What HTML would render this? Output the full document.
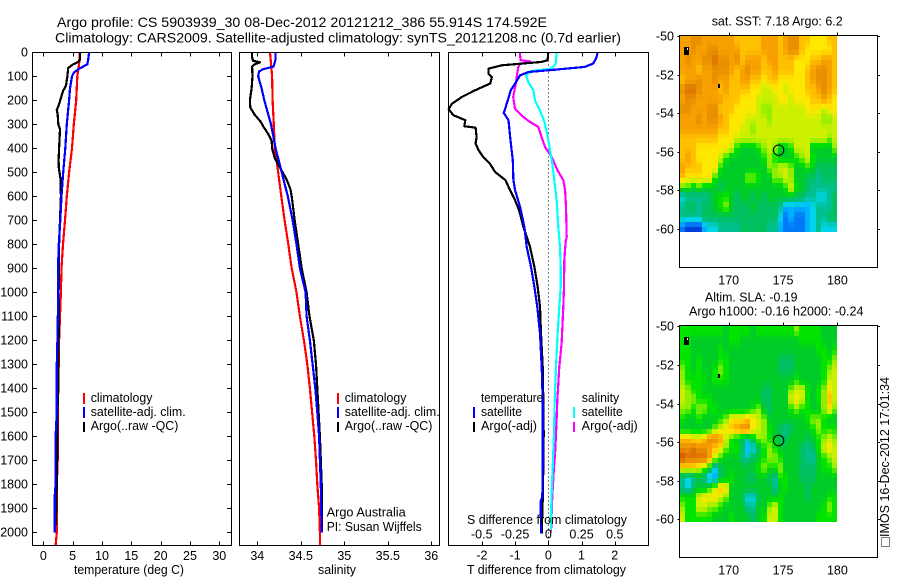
<!DOCTYPE html>
<html lang="en">
<head>
<meta charset="utf-8">
<title>Argo profile</title>
<style>
html,body{margin:0;padding:0;background:#fff;}
svg{display:block;}
text{font-family:"Liberation Sans",sans-serif;font-size:12.5px;fill:#000;}
.t{font-size:14px;}
</style>
</head>
<body>
<svg id="fig" xmlns="http://www.w3.org/2000/svg" width="900" height="580" viewBox="0 0 900 580">
<rect x="0" y="0" width="900" height="580" fill="#fff"/>
<text class="t" x="57" y="27" textLength="490" lengthAdjust="spacingAndGlyphs">Argo profile: CS 5903939_30 08-Dec-2012 20121212_386 55.914S 174.592E</text>
<text class="t" x="55" y="42.5" textLength="566" lengthAdjust="spacingAndGlyphs">Climatology: CARS2009. Satellite-adjusted climatology: synTS_20121208.nc (0.7d earlier)</text>

<g id="p1"></g>
<g id="p2"></g>
<g id="p3"></g>
<g id="m1"></g>
<g id="m2"></g>

<text x="74" y="574" textLength="110" lengthAdjust="spacingAndGlyphs">temperature (deg C)</text>
<text x="318" y="574" textLength="38" lengthAdjust="spacingAndGlyphs">salinity</text>
<text x="467" y="574" textLength="159" lengthAdjust="spacingAndGlyphs">T difference from climatology</text>
<text x="467" y="524" textLength="160" lengthAdjust="spacingAndGlyphs">S difference from climatology</text>

<g shape-rendering="crispEdges">
<rect x="83" y="393" width="2" height="11" fill="#f00"/>
<rect x="83" y="407" width="2" height="11" fill="#00f"/>
<rect x="83" y="422" width="2" height="10" fill="#000"/>
</g>
<text x="90.7" y="402" textLength="61.7" lengthAdjust="spacingAndGlyphs">climatology</text>
<text x="90.7" y="416" textLength="95" lengthAdjust="spacingAndGlyphs">satellite-adj. clim.</text>
<text x="90.7" y="430" textLength="87.7" lengthAdjust="spacingAndGlyphs">Argo(..raw -QC)</text>

<g shape-rendering="crispEdges">
<rect x="337" y="393" width="2" height="11" fill="#f00"/>
<rect x="337" y="407" width="2" height="11" fill="#00f"/>
<rect x="337" y="422" width="2" height="10" fill="#000"/>
</g>
<text x="344.7" y="402" textLength="61.7" lengthAdjust="spacingAndGlyphs">climatology</text>
<text x="344.7" y="416" textLength="95" lengthAdjust="spacingAndGlyphs">satellite-adj. clim.</text>
<text x="344.7" y="430" textLength="87.7" lengthAdjust="spacingAndGlyphs">Argo(..raw -QC)</text>
<text x="326.7" y="516.5" textLength="79" lengthAdjust="spacingAndGlyphs">Argo Australia</text>
<text x="326.7" y="531" textLength="95" lengthAdjust="spacingAndGlyphs">PI: Susan Wijffels</text>

<g shape-rendering="crispEdges">
<rect x="473" y="407" width="2" height="11" fill="#00f"/>
<rect x="473" y="422" width="2" height="10" fill="#000"/>
<rect x="573" y="407" width="2" height="11" fill="#0ff"/>
<rect x="573" y="422" width="2" height="10" fill="#f0f"/>
</g>
<text x="481" y="402" textLength="62" lengthAdjust="spacingAndGlyphs">temperature</text>
<text x="481" y="416" textLength="41" lengthAdjust="spacingAndGlyphs">satellite</text>
<text x="481" y="430" textLength="56" lengthAdjust="spacingAndGlyphs">Argo(-adj)</text>
<text x="581.7" y="402" textLength="37.5" lengthAdjust="spacingAndGlyphs">salinity</text>
<text x="581.7" y="416" textLength="41" lengthAdjust="spacingAndGlyphs">satellite</text>
<text x="581.7" y="430" textLength="56" lengthAdjust="spacingAndGlyphs">Argo(-adj)</text>

<text x="711.7" y="25.5" textLength="131" lengthAdjust="spacingAndGlyphs">sat. SST: 7.18 Argo: 6.2</text>
<text x="705" y="301.5" textLength="92.5" lengthAdjust="spacingAndGlyphs">Altim. SLA: -0.19</text>
<text x="689" y="315.5" textLength="174.5" lengthAdjust="spacingAndGlyphs">Argo h1000: -0.16 h2000: -0.24</text>

<g shape-rendering="crispEdges">
<rect x="881.5" y="537.5" width="8" height="9" fill="none" stroke="#000" stroke-dasharray="1 1"/>
</g>
<text x="0" y="0" transform="translate(889 537) rotate(-90)" textLength="160" lengthAdjust="spacingAndGlyphs">IMOS 16-Dec-2012 17:01:34</text>
</svg>

<script>
// ---------- temperature profiles ----------
const tempClimDepth = [0,50,100,200,300,400,500,600,700,800,900,1000,1100,1200,1400,1500,1700,1800,2000,2055];
const tempClimValue = [6.2,6.1,5.8,5.6,5.2,4.9,4.4,4.0,3.7,3.35,3.1,3.0,2.85,2.7,2.55,2.45,2.45,2.3,2.3,2.1];
const tempSatDepth = [0,30,50,70,85,100,150,200,300,400,500,600,700,800,900,1000,1200,1300,1500,1600,1800,1850,2000];
const tempSatValue = [7.8,7.65,7.5,6.0,5.2,4.9,4.55,4.4,4.0,3.75,3.4,3.1,2.9,2.65,2.5,2.55,2.4,2.3,2.3,2.1,2.1,1.95,1.95];
const tempArgoDepth = [0,30,40,50,65,100,140,160,190,220,240,260,300,320,400,450,480,530,600,700,800,900,1000,1100,1400,1500,1750,1800,1970];
const tempArgoValue = [6.25,6.25,6,5.1,4.25,4.1,3.85,3.4,3,2.65,2.3,2.45,2.55,2.85,2.7,2.6,2.65,2.95,3,2.85,2.7,2.7,2.6,2.65,2.55,2.4,2.35,2.3,2.15];

// ---------- salinity profiles ----------
const salClimDepth = [0,100,200,300,400,500,600,700,800,900,1000,1100,1200,1300,1400,1500,1600,1700,1800,1900,2000,2055];
const salClimValue = [34.146,34.17,34.176,34.19,34.2,34.24,34.276,34.314,34.356,34.395,34.45,34.49,34.536,34.575,34.605,34.63,34.655,34.675,34.69,34.71,34.72,34.72];
const salSatDepth = [0,30,60,70,80,100,150,200,300,400,500,600,700,800,900,1000,1100,1200,1300,1400,1500,1600,1700,1800,1900,2000];
const salSatValue = [34.21,34.21,34.185,34.07,34.02,34.01,34.05,34.08,34.157,34.21,34.28,34.35,34.406,34.45,34.49,34.555,34.567,34.605,34.636,34.667,34.69,34.71,34.72,34.73,34.735,34.74];
const salArgoDepth = [0,20,35,42,50,60,100,150,200,230,260,290,310,340,370,400,440,480,530,570,600,700,800,900,1000,1100,1200,1300,1400,1500,1600,1800,2000];
const salArgoValue = [33.94,33.94,33.95,34.03,33.97,33.94,33.945,33.935,33.915,33.92,33.97,34.04,34.07,34.125,34.165,34.17,34.2,34.26,34.337,34.38,34.395,34.43,34.47,34.51,34.567,34.6,34.65,34.675,34.69,34.705,34.72,34.74,34.74];

// ---------- difference profiles ----------
const sDiffArgoDepth = [0,33,38,50,60,89,130,186,235,269,290,311,353,394,436,492,533,575,644,769,790,867,978,1061,1116,1214,1311,1380,1450,1519,1589,1658,1728,1850,2000];
const sDiffArgoValue = [-0.214,-0.208,-0.138,-0.214,-0.225,-0.234,-0.244,-0.264,-0.25,-0.188,-0.138,-0.075,-0.05,-0.025,0.025,0.07,0.113,0.126,0.133,0.138,0.13,0.12,0.118,0.113,0.108,0.1,0.083,0.075,0.068,0.063,0.058,0.053,0.043,0.03,0.02];
const sDiffSatDepth = [0,47,68,78,96,124,158,200,242,283,339,408,464,533,617,728,811,894,978,1061,1172,1311,1450,1589,1728,1867,1990];
const sDiffSatValue = [0.063,0.055,0.025,-0.126,-0.168,-0.15,-0.113,-0.1,-0.063,-0.033,-0.008,0.013,0.03,0.045,0.063,0.075,0.088,0.093,0.093,0.083,0.07,0.058,0.048,0.043,0.033,0.023,0.02];
const tDiffArgoDepth = [0,33,40,54,68,89,103,130,158,186,214,237,262,283,308,314,353,380,408,436,464,499,533,575,617,658,728,811,894,978,1061,1172,1311,1450,1589,1728,1867,2006];
const tDiffArgoValue = [0,-0.02,-0.2,-1.4,-1.8,-1.8,-1.7,-1.75,-2.2,-2.6,-2.9,-3,-2.86,-2.5,-2.53,-2.19,-2.16,-2.19,-2.1,-1.96,-1.76,-1.6,-1.29,-1.15,-1,-0.88,-0.75,-0.55,-0.42,-0.32,-0.25,-0.22,-0.17,-0.15,-0.14,-0.15,-0.17,-0.2];
const tDiffSatDepth = [0,28,47,61,75,82,96,130,158,200,253,283,367,450,533,575,644,728,811,894,978,1061,1172,1311,1450,1589,1728,1853,1870,2006];
const tDiffSatValue = [1.49,1.43,1.35,1.1,0,-0.6,-0.85,-1,-1.13,-1.22,-1.34,-1.2,-1.14,-1.07,-1.05,-1,-0.85,-0.72,-0.65,-0.52,-0.42,-0.33,-0.25,-0.2,-0.17,-0.17,-0.17,-0.18,-0.23,-0.22];

// ---------- tick labels ----------
const depthTicks = [0,100,200,300,400,500,600,700,800,900,1000,1100,1200,1300,1400,1500,1600,1700,1800,1900,2000];
const tempTicks = [0,5,10,15,20,25,30];
const salTicks = [34,34.5,35,35.5,36];
const tDiffTicks = [-2,-1,0,1,2];
const sDiffTicks = [-0.5,-0.25,0,0.25,0.5];
const latTicks = [-50,-52,-54,-56,-58,-60];
const lonTicks = [170,175,180];

// ---------- profile position and islands ----------
const floatLon = [174.592];
const floatLat = [-55.914];
const islandLon = [166.1,169.15];
const islandLat = [-50.78,-52.58];

// ---------- map grids (colour-level values, rows north to south, columns west to east) ----------
const sstGrid = [
[12,12,13,13,12, 12,12,12,12,12, 11,11,11,11,11, 12,12,12,11,12, 13,13,11,11,10, 10,10,11,11],
[12,12,13,12,12, 13,13,12,12,12, 12,11,11,11,11, 12,12,12,11,12, 13,13,11,10,10, 10,10,10,11],
[12,13,12,12,13, 13,14,13,13,12, 13,11,12,12,12, 11,12,12,11,11, 11,10,10,10,11, 11,12,12,11],
[12,12,12,11,12, 12,13,13,13,12, 11,12,13,12,12, 11,11,12,11,11, 11,10,10,11,12, 13,13,12,11],
[11,12,12,13,12, 12,13,12,12,11, 11,12,12,11,11, 10,11,11,10,10, 10,10,10,11,12, 13,13,12,11],
[13,14,14,13,12, 12,12,11,12,11, 11,11,11,10,10, 9,9,10,10,9, 10,10,10,11,11, 12,13,12,11],
[12,13,13,12,12, 12,12,12,11,11, 11,10,10,10,9, 9,9,9,10,10, 9,10,10,10,11, 11,12,11,10],
[13,13,12,12,12, 13,13,11,11,11, 10,10,10,10,9, 8,8,9,9,9, 9,9,9,10,10, 10,9,10,10],
[12,12,12,13,12, 13,13,12,11,10, 10,10,9,9,9, 9,8,9,9,9, 9,9,9,9,9, 9,8,8,9],
[12,12,12,12,12, 12,12,11,11,10, 10,9,9,8,9, 9,9,9,9,9, 9,9,9,9,9, 9,9,9,9],
[11,11,11,11,11, 11,11,10,10,10, 9,9,9,9,9, 9,9,9,9,9, 9,9,9,9,9, 9,9,8,9],
[11,11,11,10,10, 10,10,10,10,9, 7,6,6,6,7, 8,9,8,6,6, 7,9,9,9,6, 6,6,6,8],
[11,12,11,10,10, 10,10,9,7,6, 6,6,6,6,6, 7,8,7,6,6, 6,7,8,9,7, 6,6,6,6],
[12,11,11,11,10, 10,10,7,6,6, 6,6,6,6,6, 6,8,8,9,9, 8,6,6,7,6, 5,5,5,5],
[11,10,10,10,10, 10,7,6,6,6, 6,6,8,8,7, 6,6,8,8,9, 8,6,6,5,5, 4,5,5,5],
[7,7,6,7,6, 6,6,5,6,6, 6,6,6,6,6, 6,6,6,6,7, 9,7,6,5,4, 4,4,4,4],
[3,4,4,4,4, 5,6,7,7,6, 5,6,6,5,6, 5,6,6,6,6, 6,5,5,4,4, 3,3,4,5],
[4,5,5,4,5, 5,6,7,8,6, 5,5,5,6,5, 5,5,5,4,2, 2,2,2,2,3, 4,4,4,5],
[4,4,4,4,5, 5,5,5,5,5, 5,5,5,5,5, 5,5,5,3,1, 2,1,1,2,3, 4,4,5,5],
[1,0,0,0,2, 3,3,4,4,4, 4,5,5,5,5, 5,4,4,2,1, 1,1,1,2,3, 4,3,3,3]
];
const slaGrid = [
[7,7,7,7,7, 7,7,7,6,7, 7,7,7,6,7, 7,7,7,7,7, 7,8,7,7,7, 7,6,6,6],
[7,7,6,6,6, 6,6,6,6,7, 7,6,6,6,6, 6,6,6,6,6, 6,6,7,7,7, 7,6,6,6],
[7,7,6,6,6, 6,6,7,6,6, 6,6,6,6,6, 6,6,6,6,6, 6,6,6,6,6, 7,7,6,7],
[7,7,6,7,6, 6,6,7,7,6, 6,6,6,6,6, 6,6,6,5,5, 5,6,6,6,6, 6,7,7,8],
[8,7,6,7,6, 6,7,8,7,6, 6,6,6,6,6, 6,6,6,5,5, 5,6,6,6,6, 6,7,8,9],
[8,7,7,7,7, 6,7,7,7,6, 6,6,6,6,6, 6,6,6,6,6, 6,7,6,6,6, 6,7,9,9],
[9,8,7,7,6, 6,6,6,6,6, 6,6,6,6,6, 5,5,6,6,6, 8,9,9,7,6, 7,8,10,9],
[9,8,8,7,7, 7,6,6,6,6, 6,6,6,6,6, 5,5,6,6,6, 9,10,9,7,6, 7,8,11,9],
[8,8,7,8,8, 7,7,6,6,6, 6,6,6,7,8, 6,5,6,6,6, 7,8,7,7,6, 6,8,10,8],
[7,6,6,7,6, 6,6,7,8,10, 10,10,11,10,9, 8,6,6,6,6, 6,6,6,7,8, 8,7,6,6],
[6,6,6,6,6, 6,8,9,10,11, 12,13,13,10,9, 8,7,6,5,4, 5,6,6,6,7, 8,7,7,7],
[11,11,10,10,11, 13,13,12,9,7, 6,5,4,6,8, 8,7,6,5,5, 6,6,6,5,6, 7,8,9,8],
[13,13,14,13,13, 12,11,10,8,7, 7,5,2,3,5, 7,8,7,6,6, 6,6,5,4,5, 7,9,10,9],
[15,14,14,14,14, 12,9,7,6,6, 6,4,4,5,6, 7,8,8,7,6, 6,6,5,4,4, 6,7,8,9],
[10,10,10,9,8, 6,3,5,6,6, 6,6,6,6,7, 8,7,7,8,6, 6,6,5,5,5, 6,7,7,8],
[4,3,4,5,4, 2,2,5,6,7, 6,6,5,5,6, 6,5,4,7,7, 6,6,5,5,5, 6,6,6,6],
[4,3,5,6,6, 7,9,11,10,6, 6,6,6,6,6, 6,6,4,6,7, 6,6,6,5,6, 6,6,6,6],
[7,7,7,9,10, 10,10,9,8,6, 6,5,3,3,5, 6,6,6,7,6, 6,6,6,5,6, 6,6,7,7],
[8,7,7,9,9, 8,8,7,6,6, 6,6,4,4,6, 6,8,9,7,6, 6,6,6,6,6, 6,7,8,7],
[9,7,7,7,7, 7,6,6,6,7, 6,6,6,5,6, 7,9,9,7,6, 6,6,6,6,6, 7,7,7,7]
];

// ---------- axis functions ----------
function yDepth(d){ return 52.3 + d * 0.24; }
function xTemp(t){ return 43.3 + t * 5.867; }
function xSal(s){ return 257.3 + (s - 34) * 87; }
function xTDiff(t){ return 548.3 + t * 33.2; }
function xSDiff(s){ return 548.3 + s * 133; }
function xLon(lon){ return 728.7 + (lon - 170) * 10.87; }
function yLat1(lat){ return 36 + (-50 - lat) * 19.3; }
function yLat2(lat){ return 326.3 + (-50 - lat) * 19.3; }

const levelColors = [[0,64,216],[0,120,248],[0,176,255],[0,212,232],[0,192,144],[0,192,96],[0,204,40],[0,228,0],[144,238,0],[204,240,0],[255,232,0],[255,192,0],[248,160,0],[232,144,0],[224,112,0],[208,80,0]];
function colorFor(v){
  const max = levelColors.length - 1;
  const t = Math.max(0, Math.min(max, v));
  const i = Math.min(max - 1, Math.floor(t));
  const f = t - i;
  const a = levelColors[i], b = levelColors[i + 1];
  return 'rgb(' + [0,1,2].map(function(k){ return Math.round(a[k] + (b[k] - a[k]) * f); }).join(',') + ')';
}

const NS = 'http://www.w3.org/2000/svg';
function mk(tag, parent){
  const el = document.createElementNS(NS, tag);
  parent.appendChild(el);
  return el;
}
function drawLine(parent, x1, y1, x2, y2, name){
  const el = mk('line', parent);
  
  
  el.setAttribute('x1', x1);
  el.setAttribute('y1', y1);
  el.setAttribute('x2', x2);
  el.setAttribute('y2', y2);
  el.setAttribute('stroke', '#000');
  el.setAttribute('stroke-width', '1');
  el.setAttribute('shape-rendering', 'crispEdges');
  return el;
}
function drawLabel(parent, x, y, str, anchor, name){
  const el = mk('text', parent);
  
  
  el.setAttribute('x', x);
  el.setAttribute('y', y);
  el.setAttribute('text-anchor', anchor);
  el.textContent = str;
  return el;
}
function drawFrame(parent, x, y, w, h){
  const el = mk('rect', parent);
  
  
  el.setAttribute('x', x);
  el.setAttribute('y', y);
  el.setAttribute('width', w);
  el.setAttribute('height', h);
  el.setAttribute('fill', 'none');
  el.setAttribute('stroke', '#000');
  el.setAttribute('stroke-width', '1');
  el.setAttribute('shape-rendering', 'crispEdges');
  return el;
}
function drawSeries(parent, xs, ys, xFn, color, name){
  const el = mk('polyline', parent);
  
  
  el.setAttribute('points', xs.map(function(v, i){ return xFn(v).toFixed(1) + ',' + yDepth(ys[i]).toFixed(1); }).join(' '));
  el.setAttribute('fill', 'none');
  el.setAttribute('stroke', color);
  el.setAttribute('stroke-width', '2.2');
  el.setAttribute('stroke-linejoin', 'round');
  el.setAttribute('shape-rendering', 'crispEdges');
  return el;
}
function fmt(v){ return String(v); }

const TOP = 52.5, BOT = 545.5;

// ---------- panel 1 ----------
const p1 = document.getElementById('p1');
drawSeries(p1, tempClimValue, tempClimDepth, xTemp, '#f00', 'temperature-climatology-line');
drawSeries(p1, tempArgoValue, tempArgoDepth, xTemp, '#000', 'temperature-argo-line');
drawSeries(p1, tempSatValue, tempSatDepth, xTemp, '#00f', 'temperature-satellite-line');
drawFrame(p1, 32.5, TOP, 199, BOT - TOP);
depthTicks.forEach(function(d){
  const y = Math.round(yDepth(d)) + 0.5;
  drawLine(p1, 32.5, y, 37, y, 'depth-tick-left');
  drawLine(p1, 227, y, 231.5, y, 'depth-tick-right');
  drawLabel(p1, 28, y + 4, fmt(d), 'end', 'depth-tick-label');
});
tempTicks.forEach(function(t){
  const x = Math.round(xTemp(t)) + 0.5;
  drawLine(p1, x, TOP, x, TOP + 4, 'temperature-tick-top');
  drawLine(p1, x, BOT - 4, x, BOT, 'temperature-tick-bottom');
  drawLabel(p1, xTemp(t), 560, fmt(t), 'middle', 'temperature-tick-label');
});

// ---------- panel 2 ----------
const p2 = document.getElementById('p2');
drawSeries(p2, salClimValue, salClimDepth, xSal, '#f00', 'salinity-climatology-line');
drawSeries(p2, salArgoValue, salArgoDepth, xSal, '#000', 'salinity-argo-line');
drawSeries(p2, salSatValue, salSatDepth, xSal, '#00f', 'salinity-satellite-line');
drawFrame(p2, 239.5, TOP, 200, BOT - TOP);
salTicks.forEach(function(s){
  const x = Math.round(xSal(s)) + 0.5;
  drawLine(p2, x, TOP, x, TOP + 4, 'salinity-tick-top');
  drawLine(p2, x, BOT - 4, x, BOT, 'salinity-tick-bottom');
  drawLabel(p2, xSal(s), 560, fmt(s), 'middle', 'salinity-tick-label');
});

// ---------- panel 3 ----------
const p3 = document.getElementById('p3');
const zeroX = Math.round(xTDiff(0)) + 0.5;
const zeroLine = drawLine(p3, zeroX, TOP, zeroX, BOT, 'zero-reference-line');
zeroLine.setAttribute('stroke-dasharray', '1 3');
drawSeries(p3, sDiffArgoValue, sDiffArgoDepth, xSDiff, '#f0f', 's-difference-argo-line');
drawSeries(p3, sDiffSatValue, sDiffSatDepth, xSDiff, '#0ff', 's-difference-satellite-line');
drawSeries(p3, tDiffArgoValue, tDiffArgoDepth, xTDiff, '#000', 't-difference-argo-line');
drawSeries(p3, tDiffSatValue, tDiffSatDepth, xTDiff, '#00f', 't-difference-satellite-line');
drawFrame(p3, 448.5, TOP, 200, BOT - TOP);
tDiffTicks.forEach(function(t){
  const x = Math.round(xTDiff(t)) + 0.5;
  drawLine(p3, x, TOP, x, TOP + 4, 't-difference-tick-top');
  drawLine(p3, x, BOT - 4, x, BOT, 't-difference-tick-bottom');
  drawLabel(p3, xTDiff(t), 559.5, fmt(t), 'middle', 't-difference-tick-label');
});
sDiffTicks.forEach(function(s){
  drawLabel(p3, xSDiff(s), 538.5, fmt(s), 'middle', 's-difference-tick-label');
});

// ---------- maps ----------
function drawMap(group, grid, yLat, frameTop, frameBottom, mapName){
  const lonStart = 165.5, lonStep = 0.5;
  const latStart = -49.97, latStep = 0.5085;
  grid.forEach(function(row, r){
    row.forEach(function(v, c){
      const x0 = Math.round(xLon(lonStart + c * lonStep));
      const x1 = Math.round(xLon(lonStart + (c + 1) * lonStep));
      [0, 1].forEach(function(half){
        const y0 = Math.round(yLat(latStart - (r + half / 2) * latStep));
        const y1 = Math.round(yLat(latStart - (r + (half + 1) / 2) * latStep));
        const nb = half === 0 ? (grid[r - 1] || row)[c] : (grid[r + 1] || row)[c];
        const cell = mk('rect', group);
        
        
        cell.setAttribute('x', x0);
        cell.setAttribute('y', y0);
        cell.setAttribute('width', x1 - x0);
        cell.setAttribute('height', y1 - y0);
        cell.setAttribute('fill', colorFor(v * 0.75 + nb * 0.25));
        cell.setAttribute('shape-rendering', 'crispEdges');
      });
    });
  });
  islandLon.forEach(function(lon, i){
    const big = i === 0;
    const isl = mk('rect', group);
    
    
    isl.setAttribute('x', Math.round(xLon(lon)) - (big ? 2 : 1));
    isl.setAttribute('y', Math.round(yLat(islandLat[i])) - (big ? 4 : 2));
    isl.setAttribute('width', big ? 5 : 2);
    isl.setAttribute('height', big ? 8 : 4);
    isl.setAttribute('fill', '#000');
    isl.setAttribute('shape-rendering', 'crispEdges');
    if (big) {
      const speck = mk('rect', group);
      
      
      speck.setAttribute('x', Math.round(xLon(lon)) + 1);
      speck.setAttribute('y', Math.round(yLat(islandLat[i])) - 3);
      speck.setAttribute('width', 1);
      speck.setAttribute('height', 2);
      speck.setAttribute('fill', '#fff');
      speck.setAttribute('shape-rendering', 'crispEdges');
    }
  });
  const circle = mk('circle', group);
  
  
  circle.setAttribute('cx', xLon(floatLon[0]));
  circle.setAttribute('cy', yLat(floatLat[0]));
  circle.setAttribute('r', 5.2);
  circle.setAttribute('fill', 'none');
  circle.setAttribute('stroke', '#000');
  circle.setAttribute('stroke-width', '1');
  drawFrame(group, 679.5, frameTop, 198, frameBottom - frameTop);
  latTicks.forEach(function(lat){
    const y = Math.round(yLat(lat)) + 0.5;
    drawLine(group, 677.5, y, 679.5, y, 'latitude-tick-left');
    drawLine(group, 877.5, y, 880, y, 'latitude-tick-right');
    drawLabel(group, 674, y + 4, fmt(lat), 'end', 'latitude-tick-label');
  });
  lonTicks.forEach(function(lon){
    const x = Math.round(xLon(lon)) + 0.5;
    drawLine(group, x, frameTop - 3, x, frameTop, 'longitude-tick-top');
    drawLabel(group, xLon(lon), frameBottom + 17, fmt(lon), 'middle', 'longitude-tick-label');
  });
}
drawMap(document.getElementById('m1'), sstGrid, yLat1, 35.5, 267.5, 'sst-map');
drawMap(document.getElementById('m2'), slaGrid, yLat2, 325.5, 557.5, 'sla-map');
</script>
</body>
</html>
